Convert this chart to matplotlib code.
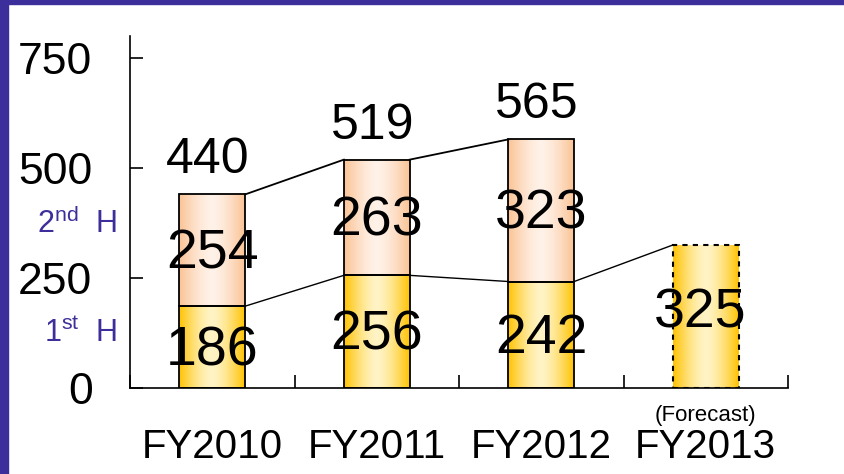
"""Recreate the FY2010-FY2013 half-year stacked bar chart."""

import matplotlib

matplotlib.use("Agg")
import matplotlib.pyplot as plt
import numpy as np
from matplotlib.colors import to_rgb
from matplotlib.patches import Rectangle

plt.rcParams["font.family"] = ["Liberation Sans", "DejaVu Sans"]
plt.rcParams["mathtext.fontset"] = "custom"
plt.rcParams["mathtext.rm"] = "Liberation Sans"

# Data
years = ["FY2010", "FY2011", "FY2012", "FY2013"]
first_half = [186, 256, 242]
second_half = [254, 263, 323]
totals = [440, 519, 565]
forecast = 325  # FY2013 full-year forecast
y_ticks = [0, 250, 500, 750]

PURPLE = "#3d2f9b"
GOLD = ("#ffc200", "#fff4c6")
PEACH = ("#fbc294", "#fff2e8")
BAR_W = 0.4


def gradient_fill(ax, x0, x1, y0, y1, colors):
    edge, mid = np.array(to_rgb(colors[0])), np.array(to_rgb(colors[1]))
    u = np.linspace(0, 1, 200)
    t = np.abs(2 * u - 1) ** 1.5
    row = mid + (edge - mid) * t[:, None]
    ax.imshow(row[None, :, :], extent=(x0, x1, y0, y1), aspect="auto", zorder=1, interpolation="bilinear")


fig = plt.figure(figsize=(8.45, 4.74), dpi=100)
ax = fig.add_axes([130 / 845, 86 / 474, 658 / 845, 352 / 474])

# frame strips of the slide
fig.patches.append(Rectangle((0, 0), 8 / 845, 1, transform=fig.transFigure, color=PURPLE, zorder=0))
fig.patches.append(Rectangle((0, 1 - 4 / 474), 1, 4 / 474, transform=fig.transFigure, color=PURPLE, zorder=0))

x = np.arange(len(years))
for i in range(len(first_half)):
    x0, x1 = x[i] - BAR_W / 2, x[i] + BAR_W / 2
    gradient_fill(ax, x0, x1, 0, first_half[i], GOLD)
    gradient_fill(ax, x0, x1, first_half[i], totals[i], PEACH)
ax.bar(x[:3], first_half, BAR_W, facecolor="none", edgecolor="black", linewidth=1.3, zorder=2)
ax.bar(x[:3], second_half, BAR_W, bottom=first_half, facecolor="none", edgecolor="black", linewidth=1.3, zorder=2)

gradient_fill(ax, x[3] - BAR_W / 2, x[3] + BAR_W / 2, 0, forecast, GOLD)
ax.bar(x[3], forecast, BAR_W, facecolor="none", edgecolor="black", linewidth=1.5,
       linestyle=(0, (2.5, 2.5)), zorder=2)

# connector lines between bars
h1 = first_half + [forecast]
for i in range(len(h1) - 1):
    ax.plot([x[i] + BAR_W / 2, x[i + 1] - BAR_W / 2], [h1[i], h1[i + 1]], color="black", lw=1.0, zorder=2)
for i in range(len(totals) - 1):
    ax.plot([x[i] + BAR_W / 2, x[i + 1] - BAR_W / 2], [totals[i], totals[i + 1]], color="black", lw=1.3, zorder=2)

# labels
for i in range(3):
    ax.annotate(str(first_half[i]), (x[i], first_half[i] / 2), xytext=(0, -3), textcoords="offset points",
                ha="center", va="center", fontsize=40, zorder=3)
    ax.annotate(str(second_half[i]), (x[i], first_half[i] + second_half[i] / 2), xytext=(0, -3),
                textcoords="offset points", ha="center", va="center", fontsize=40, zorder=3)
    ax.annotate(str(totals[i]), (x[i], totals[i]), xytext=(-3, 8), textcoords="offset points",
                ha="center", va="bottom", fontsize=36, zorder=3)
ax.annotate(str(forecast), (x[3], forecast / 2), xytext=(-4, 2), textcoords="offset points",
            ha="center", va="center", fontsize=40, zorder=3)
ax.annotate("(Forecast)", (x[3], 0), xytext=(0, -24), textcoords="offset points",
            ha="center", va="baseline", fontsize=16, annotation_clip=False)

for label, yv in [(r"2$^{\mathrm{nd}}$  H", 352), (r"1$^{\mathrm{st}}$  H", 105)]:
    ax.annotate(label, (0, yv), xycoords=("axes fraction", "data"), xytext=(-9, 0), textcoords="offset points",
                ha="right", va="baseline", fontsize=22, color=PURPLE, annotation_clip=False)

# axes styling
ax.set_xlim(-0.5, 3.5)
ax.set_ylim(0, 800)
ax.spines[["top", "right"]].set_visible(False)
ax.spines[["left", "bottom"]].set_linewidth(1.2)
ax.set_yticks(y_ticks)
ax.tick_params(axis="y", direction="in", length=9.5, width=1.2, pad=27, labelsize=32)
ax.set_xticks(np.arange(-0.5, 4, 1))
ax.set_xticklabels([])
ax.tick_params(axis="x", which="major", direction="in", length=9.5, width=1.2)
ax.set_xticks(x, minor=True)
ax.set_xticklabels(years, minor=True)
ax.tick_params(axis="x", which="minor", length=0, pad=29, labelsize=29)

fig.savefig("out.png", dpi=100)
